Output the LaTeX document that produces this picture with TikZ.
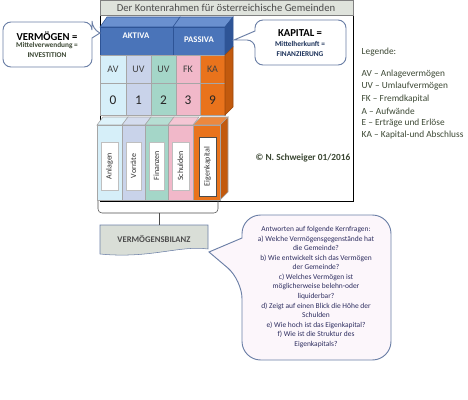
\documentclass[tikz,border=0pt]{standalone}
\usepackage{fontspec}
\setmainfont{Carlito}
\definecolor{titelgrau}{HTML}{DFE3DC}
\definecolor{blaufront}{HTML}{4A74B9}
\definecolor{blauoben}{HTML}{6A90CF}
\definecolor{blaurand}{HTML}{2E5496}
\definecolor{avcyan}{HTML}{D6EFF9}
\definecolor{uvblau}{HTML}{C9D3EA}
\definecolor{uvgruen}{HTML}{A4D6C8}
\definecolor{fkrosa}{HTML}{F1B8C9}
\definecolor{kaorange}{HTML}{E9731C}
\definecolor{kadunkel}{HTML}{C25A0E}
\definecolor{legtext}{HTML}{3B4733}
\definecolor{fragtext}{HTML}{2E2E60}
\definecolor{blasefill}{HTML}{FCF6FB}
\definecolor{blaserand}{HTML}{6B7FA6}
\definecolor{bilanzgrau}{HTML}{D9DED7}
\begin{document}
\begin{tikzpicture}[x=0.75pt,y=-0.75pt,
    zelle/.style={draw=gray!70, thin},
    quader/.style={draw=blaurand, thin},
    blase/.style={draw=blaserand, fill=blasefill, line width=0.7pt},
    klein/.style={font=\fontsize{5.5}{6.5}\selectfont\bfseries, text=legtext},
    legzeile/.style={font=\fontsize{7}{8}\selectfont, text=legtext, anchor=west}]

    \useasboundingbox (0,0) rectangle (468,400);

    % Rahmen mit Titel
    \draw[fill=white] (100,0) rectangle (353,201);
    \draw[fill=titelgrau, draw=gray] (100,0) rectangle (353,15);
    \node[font=\fontsize{8}{9}\selectfont, text=black!70] (titel) at (226,7.5) {Der Kontenrahmen für österreichische Gemeinden};

    % Aktiva und Passiva
    \draw[quader, fill=blauoben] (100,27) -- (107,17) -- (180,17) -- (173,27) -- cycle;
    \draw[quader, fill=blaufront] (100,27) rectangle (173,55);
    \draw[quader, fill=blauoben] (173,27) -- (180,17) -- (233,17) -- (225,27) -- cycle;
    \draw[quader, fill=blaufront] (173,27) rectangle (225,55);
    \draw[quader, fill=blaurand] (225,27) -- (233,17) -- (233,47) -- (225,55) -- cycle;
    \node[font=\fontsize{6.5}{7}\selectfont\bfseries, text=white] (aktiva) at (136,36) {AKTIVA};
    \node[font=\fontsize{6.5}{7}\selectfont\bfseries, text=white] (passiva) at (199,40) {PASSIVA};

    % Kontenklassen
    \foreach \xa/\xb/\farbe/\kz/\nr in {100/126/avcyan/AV/0, 126/151/uvblau/UV/1, 151/176/uvgruen/UV/2, 176/200/fkrosa/FK/3, 200/225/kaorange/KA/9} {
        \draw[zelle, fill=\farbe] (\xa,55) rectangle (\xb,83);
        \draw[zelle, fill=\farbe] (\xa,83) rectangle (\xb,115);
        \node[font=\fontsize{7.5}{8}\selectfont, text=black!75] (kz\nr) at ({(\xa+\xb)/2},69) {\kz};
        \node[font=\fontsize{10}{11}\selectfont, text=black!85] (nr\nr) at ({(\xa+\xb)/2},100) {\nr};
    }
    \draw[draw=kadunkel!80!black, thin, fill=kadunkel] (225,55) -- (233,47) -- (233,107) -- (225,115) -- cycle;

    % Ordner
    \foreach \xa/\xb/\farbe/\name in {97/122/avcyan/Anlagen, 122/145/uvblau/Vorräte, 145/168/uvgruen/Finanzen, 168/193/fkrosa/Schulden} {
        \draw[zelle, fill=\farbe!80!white] (\xa,125) -- (\xa+6,117) -- (\xb+6,117) -- (\xb,125) -- cycle;
        \draw[zelle, fill=\farbe] (\xa,125) rectangle (\xb,200);
        \draw[draw=gray!50, fill=white] (\xa+4,142) rectangle (\xb-4,190);
        \node[rotate=90, font=\fontsize{6}{7}\selectfont, text=black!80] (o\name) at ({(\xa+\xb)/2},166) {\name};
    }
    \draw[zelle, fill=kaorange!85!white] (193,125) -- (201,117) -- (228,117) -- (220,125) -- cycle;
    \draw[zelle, fill=kadunkel] (220,125) -- (228,117) -- (228,192) -- (220,200) -- cycle;
    \draw[zelle, fill=kaorange] (193,125) rectangle (220,200);
    \draw[draw=black!70, fill=white] (199,137) rectangle (216,196);
    \node[rotate=90, font=\fontsize{6}{7}\selectfont, text=black!80] (oEigenkapital) at (207.5,166.5) {Eigenkapital};

    % Klammer und Vermoegensbilanz
    \draw[black!70, rounded corners=3] (98,201) -- (98,213) -- (218,213) -- (218,201);
    \coordinate (klammer) at (159,213);
    \draw[fill=bilanzgrau, draw=blaserand] (100,225) -- (208,225) -- (208,249) .. controls (180,245) and (150,259) .. (100,254) -- cycle;
    \node[font=\fontsize{6.5}{7}\selectfont\bfseries, text=black!70, minimum width=81pt, minimum height=20pt] (vbil) at (154,238.5) {VERMÖGENSBILANZ};
    \draw[black!70] (klammer) -- (klammer |- vbil.north);

    % Sprechblasen
    \draw[blase, fill=white] (48,22) [rounded corners=6] -- (92,22) -- (92,29) [sharp corners] -- (100,33) -- (92,38) [rounded corners=6] -- (92,67) -- (3,67) -- (3,22) -- cycle;
    \node[font=\fontsize{8}{9}\selectfont\bfseries] (vermoegen) at (47,36) {VERMÖGEN =};
    \node[klein] (mittelv) at (47,46) {Mittelverwendung =};
    \node[klein] (invest) at (47,55) {INVESTITION};

    \draw[blase, fill=white] (300,20) [rounded corners=6] -- (346,20) -- (346,65) -- (255,65) -- (255,40) [sharp corners] -- (234,40) -- (255,31) [rounded corners=6] -- (255,20) -- cycle;
    \node[font=\fontsize{8}{9}\selectfont\bfseries] (kapital) at (300,33) {KAPITAL =};
    \node[klein, text=blaurand!60!black] (mittelh) at (300,44) {Mittelherkunft =};
    \node[klein, text=blaurand!60!black] (finanz) at (300,54) {FINANZIERUNG};

    % Legende
    \node[legzeile] (legende) at (357,52) {Legende:};
    \node[legzeile] (lav) at (357,74) {AV – Anlagevermögen};
    \node[legzeile] (luv) at (357,86.5) {UV – Umlaufvermögen};
    \node[legzeile] (lfk) at (357,99) {FK – Fremdkapital};
    \node[legzeile] (la) at (357,111) {A – Aufwände};
    \node[legzeile] (le) at (357,123) {E – Erträge und Erlöse};
    \node[legzeile] (lka) at (357,135) {KA – Kapital-und Abschluss};
    \node[font=\fontsize{7}{8}\selectfont\bfseries, text=legtext] (copy) at (303,158) {© N. Schweiger 01/2016};

    % Kernfragen
    \draw[blase] (316,215) [rounded corners=14] -- (391,215) -- (391,360) -- (242,360) -- (242,280) [sharp corners] -- (209,252) -- (242,238) [rounded corners=14] -- (242,215) -- cycle;
    \node[align=center, text=fragtext, font=\fontsize{5.6}{7.15}\selectfont] (fragen) at (316,287) {Antworten auf folgende Kernfragen:\\
        a) Welche Vermögensgegenstände hat\\ die Gemeinde?\\
        b) Wie entwickelt sich das Vermögen\\ der Gemeinde?\\
        c) Welches Vermögen ist\\ möglicherweise belehn-oder\\ liquiderbar?\\
        d) Zeigt auf einen Blick die Höhe der\\ Schulden\\
        e) Wie hoch ist das Eigenkapital?\\
        f) Wie ist die Struktur des\\ Eigenkapitals?};

\end{tikzpicture}
\end{document}
